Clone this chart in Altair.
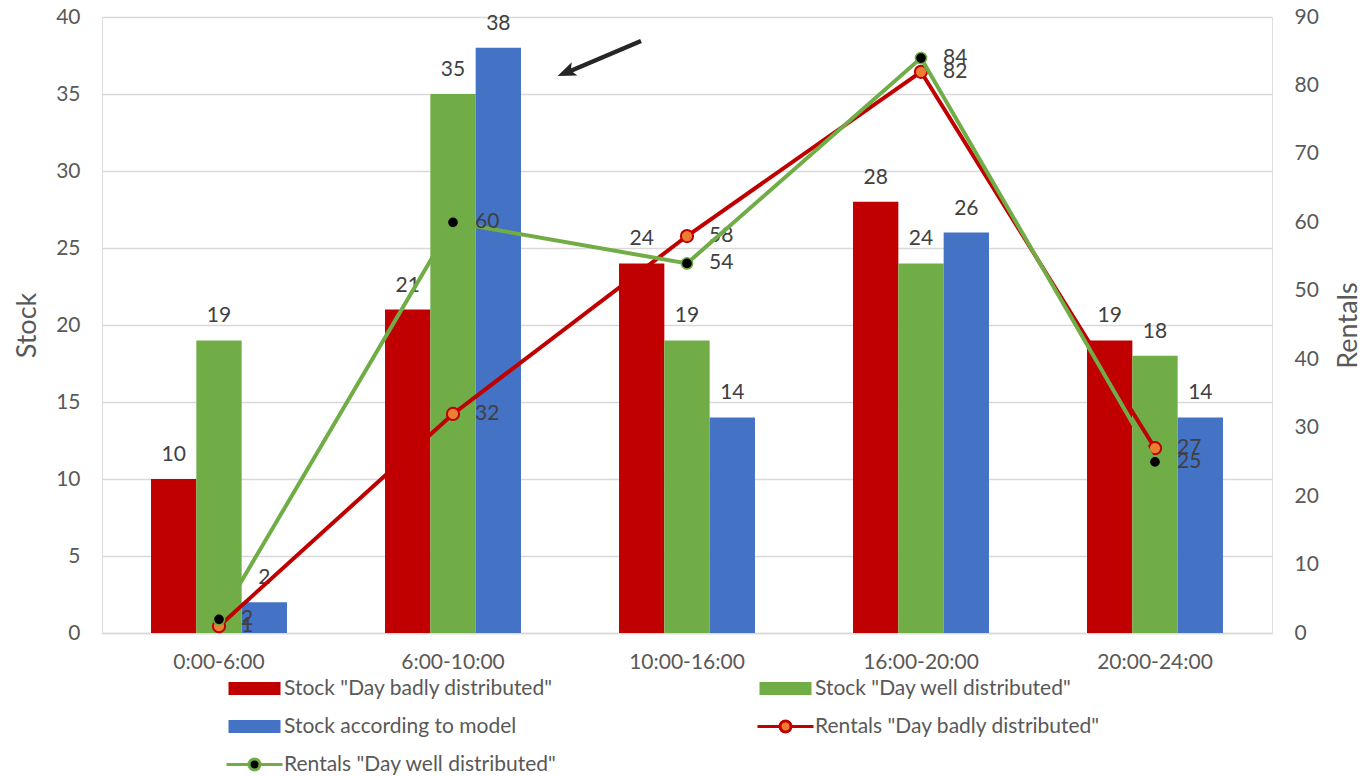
import altair as alt
import pandas as pd

# ---------------- data ----------------
categories = ["0:00-6:00", "6:00-10:00", "10:00-16:00", "16:00-20:00", "20:00-24:00"]
stock_bad = [10, 21, 24, 28, 19]
stock_well = [19, 35, 19, 24, 18]
stock_model = [2, 38, 14, 26, 14]
rentals_bad = [1, 32, 58, 82, 27]
rentals_well = [2, 60, 54, 84, 25]

S_BAD = 'Stock "Day badly distributed"'
S_WELL = 'Stock "Day well distributed"'
S_MODEL = "Stock according to model"
R_BAD = 'Rentals "Day badly distributed"'
R_WELL = 'Rentals "Day well distributed"'

# ---------------- styles ----------------
FONT = "Lato"
AXIS_TXT = "#595959"
LBL_TXT = "#404040"
GRID = "#D9D9D9"
RED = "#C00000"
GREEN = "#70AD47"
BLUE = "#4472C4"
ORANGE = "#ED7D31"
BLACK = "#000000"
FS = 21

RECT_PATH = "M-1,-0.93 L6.43,-0.93 L6.43,0.93 L-1,0.93 Z"
LINE_PATH = ("M-1,0 L2.214,0 M3.786,0 L7,0 "
             "M3.786,0 A0.786,0.786 0 1,1 2.214,0 A0.786,0.786 0 1,1 3.786,0 Z")
ARROW_HEAD = "M0,-1 L0.7,0.8 L0,0.4 L-0.7,0.8 Z"


def frame(name, values):
    return pd.DataFrame({"cat": categories, "series": name, "value": values})


x_enc = alt.X(
    "cat:N",
    sort=categories,
    scale=alt.Scale(domain=categories, paddingInner=0.419, paddingOuter=0.2095),
    axis=alt.Axis(
        title=None, labelAngle=0, ticks=False, tickSize=0, grid=False,
        domain=True, domainColor=GRID, domainWidth=1.3,
        labelFontSize=FS, labelColor=AXIS_TXT, labelPadding=18, labelFont=FONT,
    ),
)

y_left = alt.Y(
    "value:Q",
    scale=alt.Scale(domain=[0, 40], nice=False, zero=True),
    axis=alt.Axis(
        orient="left", values=list(range(0, 41, 5)), title="Stock",
        grid=True, gridColor=GRID, gridWidth=1.3, domain=False, ticks=False, tickSize=0,
        labelFontSize=FS, labelColor=AXIS_TXT, labelPadding=22, labelFont=FONT,
        titleFontSize=27, titleFontWeight="normal", titleColor=AXIS_TXT,
        titleFont=FONT, titlePadding=14,
    ),
)

y_right = alt.Y(
    "value:Q",
    scale=alt.Scale(domain=[0, 90], nice=False, zero=True),
    axis=alt.Axis(
        orient="right", values=list(range(0, 91, 10)), title="Rentals",
        grid=False, domain=False, ticks=False, tickSize=0,
        labelFontSize=FS, labelColor=AXIS_TXT, labelPadding=22, labelFont=FONT,
        titleFontSize=27, titleFontWeight="normal", titleColor=AXIS_TXT,
        titleFont=FONT, titlePadding=44, titleAngle=270,
    ),
)

x_off = alt.XOffset(
    "series:N",
    sort=[S_BAD, S_WELL, S_MODEL],
    scale=alt.Scale(domain=[S_BAD, S_WELL, S_MODEL], paddingInner=0, paddingOuter=0),
)


def make_legend(symbol, label_offset, lx, ly, stroke_width=0):
    return alt.Legend(
        title=None, orient="none", legendX=lx, legendY=ly,
        symbolType=symbol, symbolSize=196, labelOffset=label_offset,
        symbolStrokeWidth=stroke_width, symbolOpacity=1,
        labelFontSize=FS, labelColor=AXIS_TXT, labelFont=FONT, labelLimit=0,
        padding=0,
    )


def bar_layers(name, values, color, lx, ly):
    base = alt.Chart(frame(name, values))
    bars = base.mark_bar().encode(
        x=x_enc, xOffset=x_off, y=y_left,
        color=alt.Color(
            "series:N",
            scale=alt.Scale(domain=[name], range=[color]),
            legend=make_legend(RECT_PATH, 38, lx, ly),
        ),
    )
    labels = base.mark_text(
        baseline="alphabetic", dy=-18, fontSize=FS, color=LBL_TXT, font=FONT
    ).encode(x=x_enc, xOffset=x_off, y=y_left, text="value:Q")
    return [bars, labels]


def line_layer(name, values, line_color, fill_color, pt_size, pt_sw, lx, ly):
    base = alt.Chart(frame(name, values))
    line = base.mark_line(color=line_color, strokeWidth=4).encode(x=x_enc, y=y_right)
    leg = make_legend(LINE_PATH, 40, lx, ly, stroke_width=3)
    pts = base.mark_point(
        filled=True, opacity=1, size=pt_size, strokeWidth=pt_sw
    ).encode(
        x=x_enc, y=y_right,
        fill=alt.Fill("series:N", scale=alt.Scale(domain=[name], range=[fill_color]), legend=leg),
        stroke=alt.Stroke("series:N", scale=alt.Scale(domain=[name], range=[line_color]), legend=leg),
    )
    labels = base.mark_text(
        align="left", baseline="middle", dx=22, fontSize=FS, color=LBL_TXT, font=FONT
    ).encode(x=x_enc, y=y_right, text="value:Q")
    return alt.layer(line, pts, labels)


# annotation arrow (pixel positions in the plot area)
arrow_df = pd.DataFrame({"a": [0]})
arrow_line = alt.Chart(arrow_df).mark_rule(color="#262626", strokeWidth=4.5).encode(
    x=alt.value(539), y=alt.value(24), x2=alt.value(466), y2=alt.value(55)
)
arrow_head = alt.Chart(arrow_df).mark_point(
    shape=ARROW_HEAD, filled=True, color="#262626", opacity=1, size=420, angle=247
).encode(x=alt.value(465), y=alt.value(55))

bars_group = alt.layer(
    *bar_layers(S_BAD, stock_bad, RED, 123, 661),
    *bar_layers(S_WELL, stock_well, GREEN, 654, 661),
    *bar_layers(S_MODEL, stock_model, BLUE, 123, 699),
    arrow_line, arrow_head,
).resolve_scale(color="independent")

lines_group = alt.layer(
    line_layer(R_BAD, rentals_bad, RED, ORANGE, 150, 2, 652, 699),
    line_layer(R_WELL, rentals_well, GREEN, BLACK, 125, 1.5, 121, 737),
).resolve_scale(fill="independent", stroke="independent")

chart = alt.layer(bars_group, lines_group).resolve_scale(
    y="independent", color="independent", fill="independent", stroke="independent"
).properties(
    width=1170, height=616,
    padding={"left": 102, "top": 17, "right": 92, "bottom": 144},
    autosize=alt.AutoSizeParams(type="none"),
    background="white",
).configure_view(stroke=None).configure(font=FONT)

chart.save("out.html", embed_options={"renderer": "svg", "actions": False})
